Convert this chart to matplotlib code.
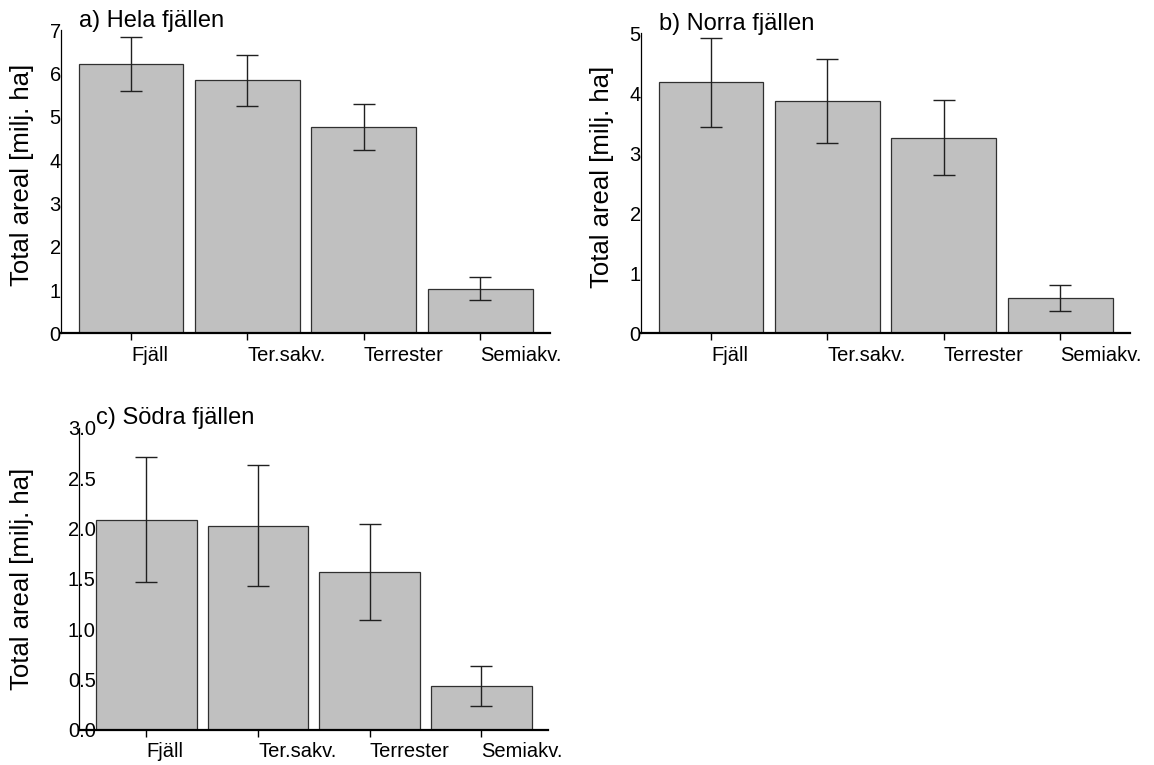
import numpy as np
import matplotlib
matplotlib.use("Agg")
import matplotlib.pyplot as plt
from matplotlib.ticker import FormatStrFormatter

plt.rcParams['font.family'] = ['Liberation Sans', 'DejaVu Sans']

categories = ["Fjäll", "Ter.sakv.", "Terrester", "Semiakv."]

hela = [6.22, 5.84, 4.77, 1.03]
hela_err = [0.615, 0.59, 0.535, 0.27]

norra = [4.18, 3.87, 3.26, 0.59]
norra_err = [0.74, 0.70, 0.62, 0.21]

sodra = [2.09, 2.03, 1.57, 0.44]
sodra_err = [0.62, 0.60, 0.48, 0.20]

titles = ["a) Hela fjällen", "b) Norra fjällen", "c) Södra fjällen"]
ylabel = "Total areal [milj. ha]"


def draw_panel(ax, values, errors, title, yticks, fmt, label_x, label_y):
    x = np.arange(len(categories))
    ax.bar(x, values, width=0.9, color="#c0c0c0", edgecolor="#303030",
           linewidth=0.9, zorder=2)
    ax.errorbar(x, values, yerr=errors, fmt="none", ecolor="#202020",
                elinewidth=1.0, capsize=8.2, capthick=1.0, zorder=3)
    ax.set_xlim(-0.6, 3.6)
    ax.set_ylim(yticks[0], yticks[-1])

    for side in ["top", "right"]:
        ax.spines[side].set_visible(False)
    ax.spines["bottom"].set_linewidth(1.6)
    ax.spines["left"].set_linewidth(0.9)

    ax.set_xticks(x)
    ax.set_xticklabels(categories, fontsize=14.5)
    for lbl in ax.get_xticklabels():
        lbl.set_ha("left")
    ax.tick_params(axis="x", direction="out", length=5, width=1.0, pad=3.8)

    ax.set_yticks(yticks)
    ax.yaxis.set_major_formatter(FormatStrFormatter(fmt))
    ax.tick_params(axis="y", length=0, pad=8.2, labelsize=14.5)
    for lbl in ax.get_yticklabels():
        lbl.set_ha("left")
        lbl.set_va("center_baseline")

    ax.set_ylabel(ylabel, fontsize=18.5, va="center")
    ax.yaxis.set_label_coords(label_x, label_y)

    ax.annotate(title, xy=(-0.45, yticks[-1]), xycoords="data",
                xytext=(0, 2.5), textcoords="offset points",
                ha="left", va="baseline", fontsize=17, annotation_clip=False)


fig = plt.figure(figsize=(11.54, 7.65), dpi=100)
ax_a = fig.add_axes([0.0529, 0.5643, 0.4237, 0.3962])
ax_b = fig.add_axes([0.5555, 0.5643, 0.4237, 0.3922])
ax_c = fig.add_axes([0.0687, 0.0458, 0.4066, 0.3948])

draw_panel(ax_a, hela, hela_err, titles[0], np.arange(0, 8, 1), "%d", -0.080, 0.522)
draw_panel(ax_b, norra, norra_err, titles[1], np.arange(0, 6, 1), "%d", -0.080, 0.522)
draw_panel(ax_c, sodra, sodra_err, titles[2], np.arange(0, 3.01, 0.5), "%.1f", -0.123, 0.5)

fig.savefig("out.png", dpi=100)
